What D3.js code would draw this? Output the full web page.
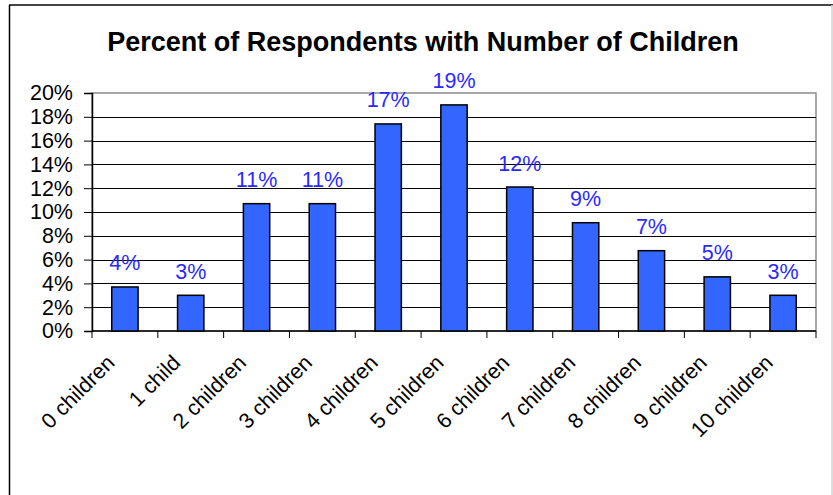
<!DOCTYPE html>
<html>
<head>
<meta charset="utf-8">
<script src="https://cdn.jsdelivr.net/npm/d3@7"></script>
<style>
  html, body { margin: 0; padding: 0; background: #fff; }
  svg { display: block; }
  text { font-family: "Liberation Sans", Arial, sans-serif; }
</style>
</head>
<body>
<svg id="chart" width="833" height="495"></svg>
<script>
const title = "Percent of Respondents with Number of Children";
const categories = ["0 children", "1 child", "2 children", "3 children", "4 children", "5 children",
                    "6 children", "7 children", "8 children", "9 children", "10 children"];
const values = [3.7, 3.0, 10.7, 10.7, 17.4, 19.0, 12.1, 9.1, 6.75, 4.55, 3.0];
const valueLabels = ["4%", "3%", "11%", "11%", "17%", "19%", "12%", "9%", "7%", "5%", "3%"];
const yTicks = [0, 2, 4, 6, 8, 10, 12, 14, 16, 18, 20];

const svg = d3.select("#chart");
const W = 833, H = 495;
const plot = { left: 92, right: 816, top: 93, bottom: 331 };

// outer frame
svg.append("line").attr("x1", 9).attr("x2", 833).attr("y1", 5).attr("y2", 5)
  .attr("stroke", "#444").attr("stroke-width", 2);
svg.append("line").attr("x1", 9.5).attr("x2", 9.5).attr("y1", 5).attr("y2", H)
  .attr("stroke", "#000").attr("stroke-width", 1.5);
svg.append("line").attr("x1", 832).attr("x2", 832).attr("y1", 5).attr("y2", H)
  .attr("stroke", "#d0d0d0").attr("stroke-width", 1.5);

// title
svg.append("text").attr("x", 423).attr("y", 51)
  .attr("text-anchor", "middle").attr("font-weight", "bold").attr("font-size", 27)
  .attr("fill", "#000").text(title);

const x = d3.scaleBand().domain(categories).range([plot.left, plot.right])
  .paddingInner(0.6).paddingOuter(0.3);
const y = d3.scaleLinear().domain([0, 20]).range([plot.bottom, plot.top]);

// plot border (gray)
svg.append("rect").attr("x", plot.left).attr("y", plot.top)
  .attr("width", plot.right - plot.left).attr("height", plot.bottom - plot.top)
  .attr("fill", "none").attr("stroke", "#8c8c8c").attr("stroke-width", 1.5);

// gridlines
svg.append("g").selectAll("line").data(yTicks.filter(t => t > 0 && t < 20)).join("line")
  .attr("x1", plot.left).attr("x2", plot.right)
  .attr("y1", d => Math.round(y(d)) + 0.5).attr("y2", d => Math.round(y(d)) + 0.5)
  .attr("stroke", "#000").attr("stroke-width", 1);

// y axis
const yAxis = d3.axisLeft(y).tickValues(yTicks).tickFormat(d => d + "%").tickSize(8).tickPadding(11);
const gy = svg.append("g").attr("transform", `translate(${plot.left},0)`).call(yAxis);
gy.select(".domain").attr("stroke", "#000").attr("stroke-width", 1.5);
gy.selectAll(".tick line").attr("stroke", "#000").attr("stroke-width", 1);
gy.selectAll(".tick text").attr("font-size", 21.5).attr("fill", "#000")
  .attr("font-family", "Liberation Sans, Arial, sans-serif");

// x axis line and ticks between categories
const step = x.step();
const boundaries = d3.range(categories.length + 1).map(i => plot.left + i * step);
svg.append("line").attr("x1", plot.left).attr("x2", plot.right)
  .attr("y1", plot.bottom).attr("y2", plot.bottom).attr("stroke", "#000").attr("stroke-width", 1.5);
svg.append("g").selectAll("line").data(boundaries).join("line")
  .attr("x1", d => d).attr("x2", d => d).attr("y1", plot.bottom).attr("y2", plot.bottom + 7)
  .attr("stroke", "#000").attr("stroke-width", 1);

// bars
svg.append("g").selectAll("rect").data(values).join("rect")
  .attr("x", (d, i) => x(categories[i]))
  .attr("y", d => y(d))
  .attr("width", x.bandwidth())
  .attr("height", d => plot.bottom - y(d))
  .attr("fill", "#3366ff").attr("stroke", "#000").attr("stroke-width", 1.5);

// value labels
svg.append("g").selectAll("text").data(values).join("text")
  .attr("x", (d, i) => x(categories[i]) + x.bandwidth() / 2)
  .attr("y", d => y(d) - 16.5)
  .attr("text-anchor", "middle").attr("font-size", 21.5).attr("fill", "#2a2aff")
  .text((d, i) => valueLabels[i]);

// category labels
svg.append("g").selectAll("text").data(categories).join("text")
  .attr("transform", d => `translate(${x(d) + x.bandwidth() / 2 - 9},${plot.bottom + 33}) rotate(-45)`)
  .attr("text-anchor", "end").attr("font-size", 21.5).attr("fill", "#000")
  .text(d => d);
</script>
</body>
</html>
